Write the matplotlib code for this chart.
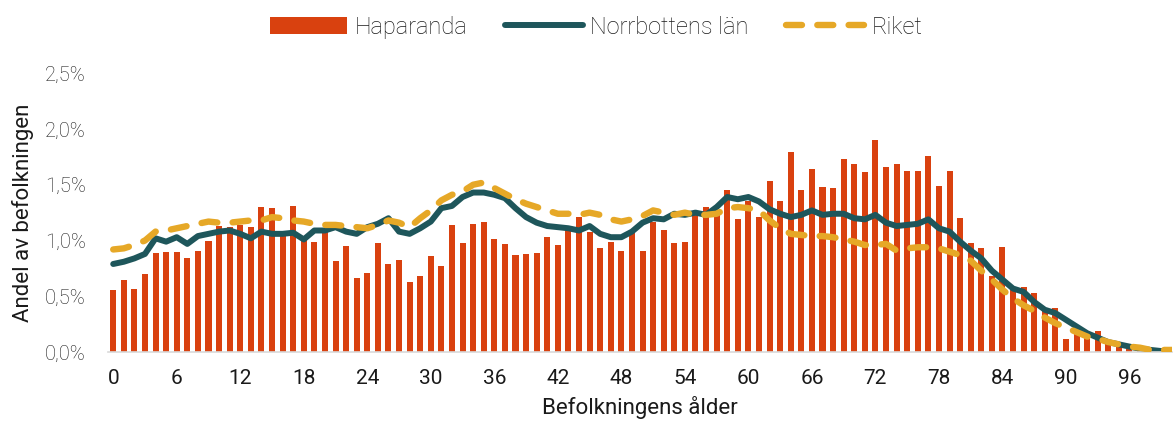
import matplotlib.pyplot as plt
from matplotlib.ticker import FuncFormatter

plt.rcParams['font.family'] = ['Roboto', 'DejaVu Sans']
plt.rcParams['font.weight'] = 'light'

# Ålder 0-100
ages = list(range(101))

# Haparanda, andel av befolkningen (%)
haparanda = [
    0.56, 0.65, 0.57, 0.70, 0.89, 0.90, 0.90, 0.84, 0.91, 1.00,
    1.13, 1.12, 1.14, 1.12, 1.30, 1.29, 1.07, 1.31, 1.02, 0.99,
    1.08, 0.82, 0.95, 0.66, 0.71, 0.98, 0.79, 0.83, 0.63, 0.68,
    0.86, 0.77, 1.14, 0.98, 1.15, 1.17, 1.01, 0.97, 0.87, 0.88,
    0.89, 1.03, 0.96, 1.10, 1.21, 1.08, 0.93, 0.99, 0.91, 1.08,
    0.91, 1.17, 1.09, 0.98, 0.99, 1.25, 1.30, 1.25, 1.45, 1.19,
    1.35, 1.21, 1.53, 1.35, 1.79, 1.45, 1.64, 1.48, 1.47, 1.73,
    1.69, 1.61, 1.90, 1.66, 1.69, 1.62, 1.62, 1.76, 1.49, 1.62,
    1.20, 0.98, 0.93, 0.68, 0.94, 0.57, 0.58, 0.53, 0.40, 0.40,
    0.12, 0.20, 0.17, 0.19, 0.11, 0.05, 0.03, 0.02, 0.01, 0.01,
    0.00,
]

# Norrbottens län (%)
norrbotten = [
    0.79, 0.81, 0.84, 0.88, 1.02, 0.99, 1.03, 0.97, 1.04, 1.06,
    1.08, 1.09, 1.06, 1.02, 1.08, 1.06, 1.06, 1.07, 1.01, 1.09,
    1.09, 1.12, 1.08, 1.06, 1.12, 1.15, 1.20, 1.08, 1.06, 1.11,
    1.17, 1.29, 1.31, 1.39, 1.43, 1.43, 1.41, 1.38, 1.29, 1.21,
    1.16, 1.13, 1.12, 1.11, 1.09, 1.13, 1.06, 1.03, 1.03, 1.08,
    1.16, 1.20, 1.19, 1.24, 1.23, 1.25, 1.23, 1.30, 1.39, 1.37,
    1.39, 1.35, 1.28, 1.24, 1.21, 1.23, 1.27, 1.23, 1.24, 1.24,
    1.20, 1.19, 1.23, 1.16, 1.13, 1.14, 1.15, 1.19, 1.11, 1.08,
    0.99, 0.91, 0.84, 0.73, 0.65, 0.57, 0.54, 0.45, 0.38, 0.35,
    0.29, 0.23, 0.17, 0.13, 0.09, 0.07, 0.05, 0.03, 0.02, 0.01,
    0.01,
]

# Riket (%)
riket = [
    0.92, 0.93, 0.96, 1.00, 1.08, 1.09, 1.11, 1.13, 1.15, 1.17,
    1.16, 1.16, 1.17, 1.18, 1.18, 1.21, 1.20, 1.18, 1.17, 1.15,
    1.14, 1.14, 1.13, 1.12, 1.11, 1.14, 1.18, 1.16, 1.12, 1.20,
    1.27, 1.36, 1.41, 1.44, 1.50, 1.52, 1.47, 1.42, 1.37, 1.33,
    1.30, 1.27, 1.24, 1.24, 1.23, 1.25, 1.23, 1.19, 1.17, 1.19,
    1.22, 1.27, 1.25, 1.23, 1.25, 1.23, 1.23, 1.24, 1.29, 1.30,
    1.29, 1.27, 1.18, 1.11, 1.06, 1.05, 1.04, 1.04, 1.03, 1.01,
    0.99, 0.96, 0.96, 0.97, 0.91, 0.93, 0.94, 0.94, 0.93, 0.90,
    0.87, 0.82, 0.73, 0.65, 0.56, 0.48, 0.42, 0.37, 0.31, 0.26,
    0.22, 0.18, 0.14, 0.12, 0.09, 0.07, 0.05, 0.04, 0.02, 0.02,
    0.02,
]

xticks = list(range(0, 97, 6))

red = '#D9410F'
teal = '#1E565B'
gold = '#E6A827'

fig = plt.figure(figsize=(11.73, 4.30), dpi=100)
ax = fig.add_axes([0.092, 0.181, 0.907, 0.649])

b = ax.bar(ages, haparanda, width=0.57, color=red, label='Haparanda', zorder=1)
l1, = ax.plot(ages, norrbotten, color=teal, lw=4.3, solid_capstyle='round',
              solid_joinstyle='round', label='Norrbottens län', zorder=2)
l2, = ax.plot(ages, riket, color=gold, lw=4.6, dashes=(2.5, 2.4),
              dash_capstyle='round', label='Riket', zorder=3)

ax.set_xlim(-0.5, 100)
ax.set_ylim(0, 2.5)
ax.set_yticks([0, 0.5, 1.0, 1.5, 2.0, 2.5])
ax.yaxis.set_major_formatter(FuncFormatter(lambda v, p: f'{v:.1f}%'.replace('.', ',')))
ax.set_xticks(xticks)

for s in ['top', 'right', 'left']:
    ax.spines[s].set_visible(False)
ax.spines['bottom'].set_color('#D9D9D9')
ax.spines['bottom'].set_linewidth(1.2)
ax.tick_params(axis='both', length=0)
ax.tick_params(axis='x', labelsize=15, colors='#1a1a1a', pad=12)
ax.tick_params(axis='y', labelsize=14.5, colors='#1a1a1a', pad=16)
for t in ax.get_xticklabels():
    t.set_fontweight('normal')

ax.set_xlabel('Befolkningens ålder', fontsize=16, color='#1a1a1a', labelpad=6)
ax.set_ylabel('Andel av befolkningen', fontsize=16, color='#1a1a1a', labelpad=8)

fig.legend([b, l1, l2], ['Haparanda', 'Norrbottens län', 'Riket'],
           loc='center', bbox_to_anchor=(0.508, 0.937), ncol=3, frameon=False,
           fontsize=17, handlelength=3.3, handletextpad=0.3, columnspacing=1.6,
           labelcolor='#1a1a1a')

fig.savefig('out.png', dpi=100)
